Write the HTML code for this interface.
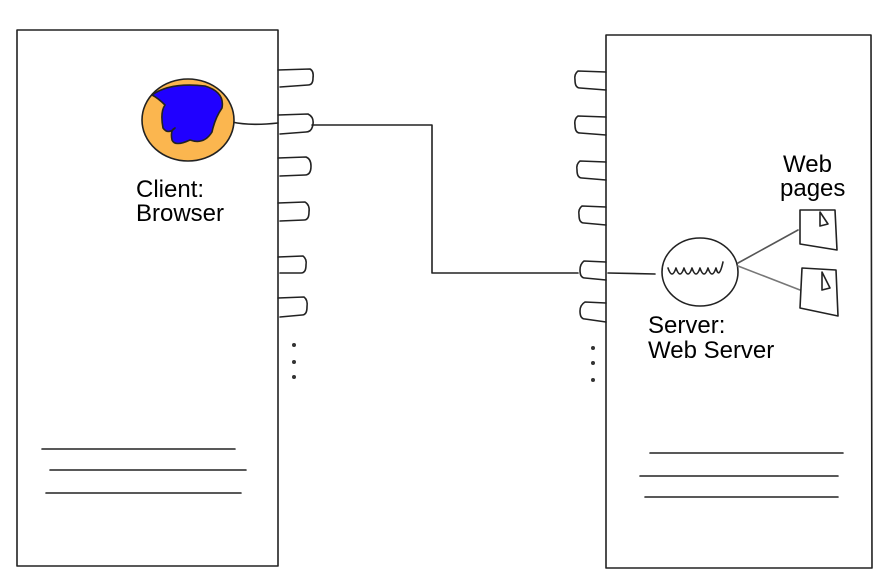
<!DOCTYPE html>
<html><head><style>html,body{margin:0;padding:0;background:#fff}svg{display:block}text{font-family:"Liberation Sans",sans-serif;font-size:24px;fill:#000}</style></head>
<body>
<svg width="888" height="584" viewBox="0 0 888 584" xmlns="http://www.w3.org/2000/svg">
<g fill="none" stroke="#222" stroke-width="1.6" stroke-linecap="round" stroke-linejoin="round">
<path d="M17 30 L278 30 L278 566 L17 566 Z"/>
<path d="M606 35 L871 35 L872 568 L606 568 Z"/>
<path d="M278 70 L310 69 Q314 71 313 78 Q313 85 308 85 L280 87"/>
<path d="M278 115 L308 114 Q314 117 313 124 Q312 132 306 132 L280 134"/>
<path d="M278 158 L306 157 Q311 159 311 166 Q311 175 305 175 L280 176"/>
<path d="M278 203 L305 202 Q310 205 309 212 Q309 220 304 220 L280 221"/>
<path d="M278 257 L303 256 Q307 259 306 265 Q306 273 301 273 L280 273"/>
<path d="M278 298 L304 297 Q308 300 307 307 Q307 315 302 315 L280 317"/>
<path d="M606 72 L578 71 Q574 74 575 80 Q575 88 580 88 L606 90"/>
<path d="M606 117 L578 116 Q574 119 575 125 Q575 133 580 133 L606 135"/>
<path d="M606 162 L580 161 Q576 164 577 170 Q577 178 582 178 L606 180"/>
<path d="M606 207 L582 206 Q578 209 579 215 Q579 223 584 223 L606 225"/>
<path d="M606 262 L584 261 Q580 264 580 270 Q580 278 585 278 L606 280"/>
<path d="M606 303 L585 302 Q580 305 580 311 Q580 319 585 319 L606 322"/>
<path d="M312 125 L432 125 L432 273 L578 273"/>
<path d="M232 122 Q250 126 278 123"/>
<path d="M608 273 L655 274"/>
<ellipse cx="188" cy="120" rx="46" ry="41" fill="#fbb64f"/>
<path d="M152 95 Q170 82 205 86 Q225 92 222 108 Q215 118 212 132 Q204 145 190 140 Q175 147 172 140 Q170 130 175 128 Q168 135 163 128 Q160 112 165 105 Q158 98 152 95 Z" fill="#2000ff"/>
<ellipse cx="700" cy="272" rx="38" ry="34"/>
<path d="M668 268 q4 12 8 0 q4 12 8 0 q4 12 8 0 q4 12 8 0 q4 12 8 0 q4 12 8 0 q3 12 7 -6"/>
<path d="M738 263 L798 230" stroke="#555"/>
<path d="M738 266 L800 290" stroke="#777"/>
<path d="M800 210 L835 210 L837 250 L800 244 Z"/>
<path d="M820 212 L828 224 L820 226 Z"/>
<path d="M802 268 L836 270 L838 316 L800 308 Z"/>
<path d="M822 272 L830 288 L822 290 Z"/>
<path d="M42 449 L235 449 M50 470 L246 470 M46 493 L241 493"/>
<path d="M650 453 L843 453 M640 476 L838 476 M645 497 L838 497"/>
</g>
<g fill="#333">
<circle cx="294" cy="345" r="2"/><circle cx="294" cy="362" r="2"/><circle cx="294" cy="377" r="2"/>
<circle cx="593" cy="348" r="2"/><circle cx="593" cy="363" r="2"/><circle cx="593" cy="380" r="2"/>
</g>
<g style="font-size:23px">
<text x="136" y="197">Client:</text>
<text x="136" y="221">Browser</text>
<text x="783" y="172">Web</text>
<text x="780" y="196">pages</text>
<text x="648" y="333">Server:</text>
<text x="648" y="358">Web Server</text>
</g>
</svg>
</body></html>
